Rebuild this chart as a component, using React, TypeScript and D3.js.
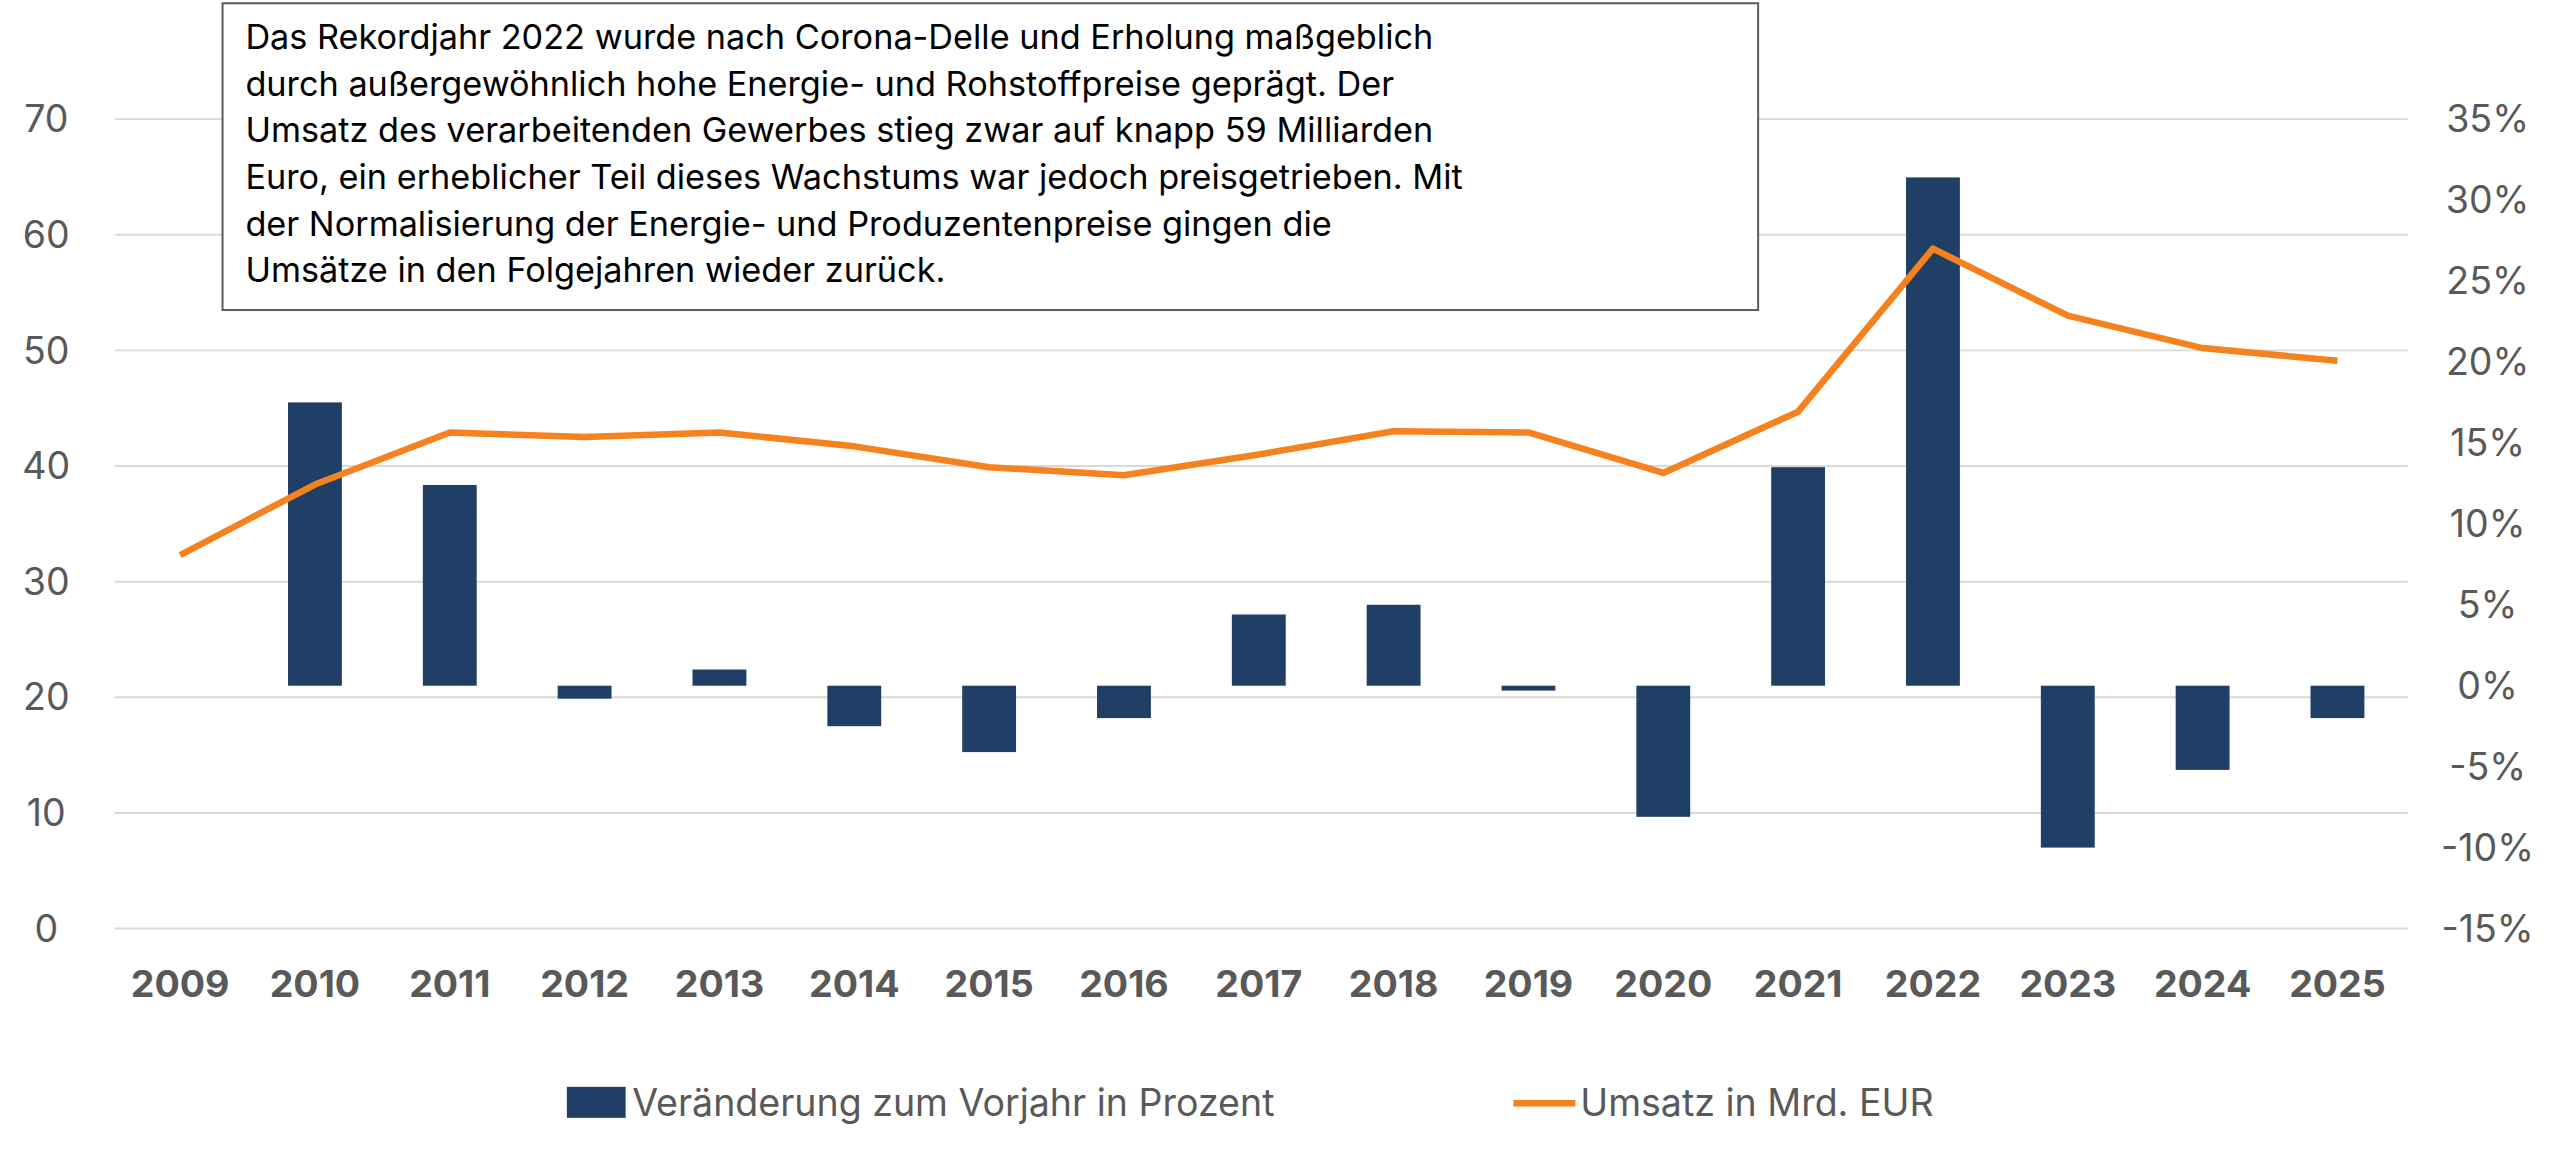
import * as d3 from "d3";

const years = ["2009","2010","2011","2012","2013","2014","2015","2016","2017","2018","2019","2020","2021","2022","2023","2024","2025"];
const changePct = [null, 17.5, 12.4, -0.8, 1.0, -2.5, -4.1, -2.0, 4.4, 5.0, -0.3, -8.1, 13.5, 31.4, -10.0, -5.2, -2.0];
const revenue = [32.3, 38.4, 42.9, 42.5, 42.9, 41.7, 39.9, 39.2, 41.0, 43.0, 42.9, 39.4, 44.7, 58.8, 53.0, 50.2, 49.1];
const leftTicks = [0, 10, 20, 30, 40, 50, 60, 70];
const rightTicks = [-15, -10, -5, 0, 5, 10, 15, 20, 25, 30, 35];
const note = [
  "Das Rekordjahr 2022 wurde nach Corona-Delle und Erholung maßgeblich",
  "durch außergewöhnlich hohe Energie- und Rohstoffpreise geprägt. Der",
  "Umsatz des verarbeitenden Gewerbes stieg zwar auf knapp 59 Milliarden",
  "Euro, ein erheblicher Teil dieses Wachstums war jedoch preisgetrieben. Mit",
  "der Normalisierung der Energie- und Produzentenpreise gingen die",
  "Umsätze in den Folgejahren wieder zurück.",
];

const W = 1568, H = 709;
const font = "Inter, 'Open Sans', sans-serif";
const grey = "#595959";
const navy = "#1f3f66";
const orange = "#f5821f";

export default function App() {
  const x = d3.scalePoint<string>().domain(years).range([110, 1432]);
  const yL = d3.scaleLinear().domain([0, 70]).range([569, 73]);
  const yR = d3.scaleLinear().domain([-15, 35]).range([569, 73]);
  const bw = 33;
  const line = d3.line<number>().x((_, i) => x(years[i])!).y(d => yL(d));

  return (
    <svg width={2560} height={1157} viewBox={`0 0 ${W} ${H}`}
      style={{ position: "absolute", left: 0, top: 0, background: "#fff" }} fontFamily={font}>
      {leftTicks.map(t => (
        <g key={t}>
          <line x1={70} x2={1475} y1={yL(t)} y2={yL(t)} stroke="#d9d9d9" strokeWidth={1.2} />
          <text x={28} y={yL(t)} dy="0.35em" textAnchor="middle" fontSize={23} fill={grey}>{t}</text>
        </g>
      ))}
      {rightTicks.map(t => (
        <text key={t} x={1524} y={yR(t)} dy="0.35em" textAnchor="middle" fontSize={23} fill={grey}>{t}%</text>
      ))}
      {changePct.map((v, i) => v === null ? null : (
        <rect key={i} x={x(years[i])! - bw / 2} width={bw}
          y={Math.min(yR(v), yR(0))} height={Math.abs(yR(v) - yR(0))} fill={navy} />
      ))}
      <path d={line(revenue)!} fill="none" stroke={orange} strokeWidth={4} strokeLinejoin="round" />
      {years.map(y => (
        <text key={y} x={x(y)} y={603} dy="0.35em" textAnchor="middle" fontSize={23} fontWeight="bold" fill={grey}>{y}</text>
      ))}
      <rect x={136} y={2} width={941} height={188} fill="#fff" stroke="#595959" strokeWidth={1.2} />
      {note.map((l, i) => (
        <text key={i} x={150} y={30 + i * 28.6} fontSize={21} fill="#000">{l}</text>
      ))}
      <rect x={347} y={666} width={36} height={19} fill={navy} />
      <text x={387} y={676} dy="0.35em" fontSize={23} fill={grey}>Veränderung zum Vorjahr in Prozent</text>
      <line x1={927} x2={965} y1={676} y2={676} stroke={orange} strokeWidth={4} />
      <text x={968} y={676} dy="0.35em" fontSize={23} fill={grey}>Umsatz in Mrd. EUR</text>
    </svg>
  );
}
